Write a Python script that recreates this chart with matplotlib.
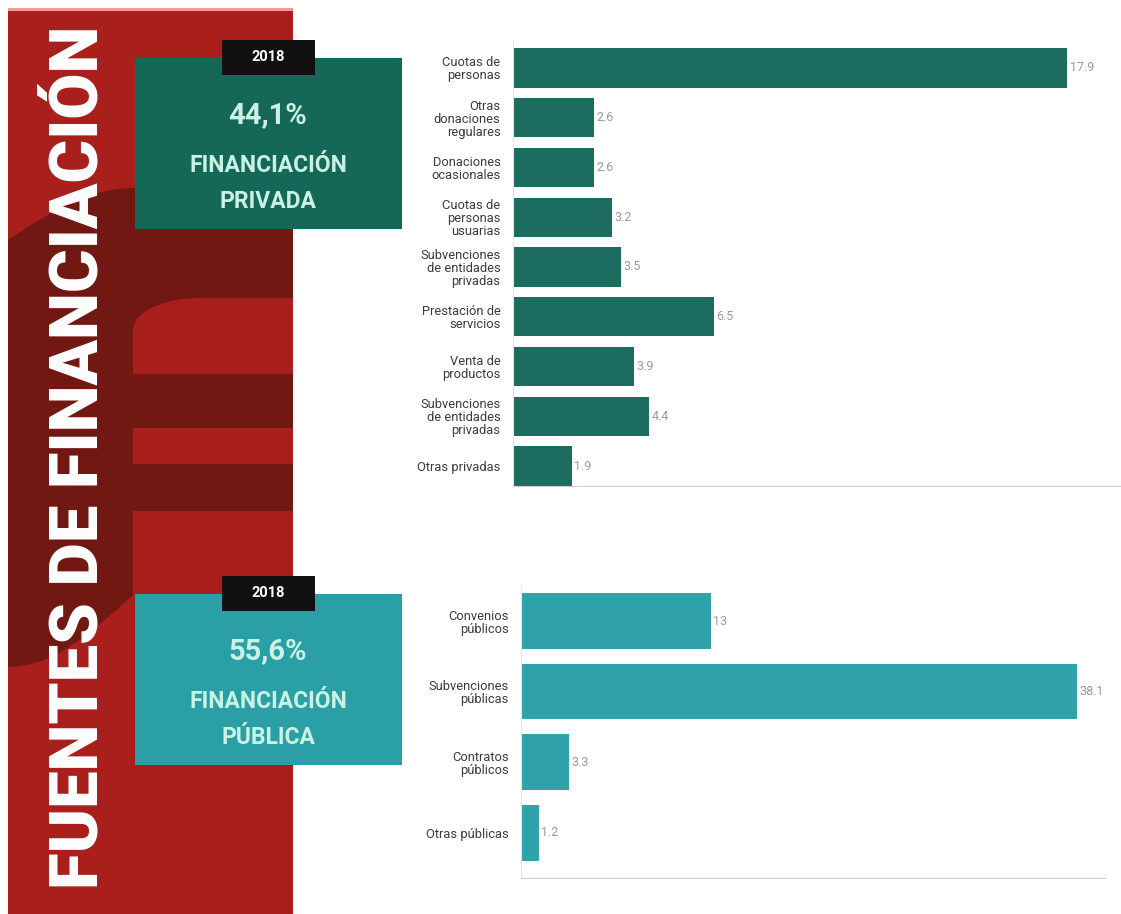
import matplotlib
matplotlib.use('Agg')
import matplotlib.pyplot as plt
import numpy as np
from matplotlib.patches import Rectangle, Polygon

plt.rcParams['font.family'] = ['Roboto', 'DejaVu Sans']

# data
priv_labels = ['Cuotas de\npersonas', 'Otras\ndonaciones\nregulares', 'Donaciones\nocasionales',
               'Cuotas de\npersonas\nusuarias', 'Subvenciones\nde entidades\nprivadas',
               'Prestación de\nservicios', 'Venta de\nproductos',
               'Subvenciones\nde entidades\nprivadas', 'Otras privadas']
priv_values = [17.9, 2.6, 2.6, 3.2, 3.5, 6.5, 3.9, 4.4, 1.9]
pub_labels = ['Convenios\npúblicos', 'Subvenciones\npúblicas', 'Contratos\npúblicos', 'Otras públicas']
pub_values = [13, 38.1, 3.3, 1.2]
year = '2018'
priv_share = '44,1%'
pub_share = '55,6%'

W, H = 1121, 914
fig = plt.figure(figsize=(W / 100, H / 100), dpi=100)

# background axes in pixel coordinates
bg = fig.add_axes([0, 0, 1, 1])
bg.set_xlim(0, W)
bg.set_ylim(H, 0)
bg.axis('off')

red = '#a81f1b'
dark = '#711812'
bg.add_patch(Rectangle((8, 8), 285, H - 8, color=red, lw=0))
bg.add_patch(Rectangle((8, 8), 285, 3, color='#f29b97', lw=0))

# big dark arc shape on the left
t = np.linspace(0, 1, 30)
top_x = 8 + 125 * t
top_y = 240 - 52 * np.sin(t * np.pi / 2)
bot_x = 133 - 125 * t
bot_y = 595 + 72 * np.sin(t * np.pi / 2)
poly = np.vstack([np.column_stack([top_x, top_y]),
                  [[133, 188], [293, 185], [293, 298]],
                  np.column_stack([200 - 67 * np.sin(t * np.pi / 2), 298 + 32 * (1 - np.cos(t * np.pi / 2))]),
                  np.column_stack([bot_x, bot_y])])
bg.add_patch(Polygon(poly, closed=True, color=dark, lw=0))
bg.add_patch(Rectangle((8, 374), 285, 54, color=dark, lw=0))
bg.add_patch(Rectangle((8, 464), 285, 47, color=dark, lw=0))

# vertical title
title = bg.text(80, 457, 'FUENTES DE FINANCIACIÓN', rotation=90, ha='center', va='center',
                color='white', fontsize=45, fontweight='heavy')
fig.canvas.draw()
ext = title.get_window_extent()
title.set_fontsize(45 * 865 / ext.height)

# info boxes
def info_box(y0, col, share, kind):
    bg.add_patch(Rectangle((135, y0), 267, 171, color=col, lw=0))
    bg.add_patch(Rectangle((222, y0 - 18), 93, 35, color='#111111', lw=0))
    bg.text(268, y0 - 1, year, ha='center', va='center', color='white', fontsize=10.5, fontweight='bold')
    bg.text(268, y0 + 57, share, ha='center', va='center', color='#c9f2e4', fontsize=21, fontweight='bold')
    bg.text(268, y0 + 108, 'FINANCIACIÓN', ha='center', va='center', color='#c9f2e4', fontsize=16.5,
            fontweight='bold')
    bg.text(268, y0 + 143, kind, ha='center', va='center', color='#c9f2e4', fontsize=16.5, fontweight='bold')

info_box(58, '#156857', priv_share, 'PRIVADA')
info_box(594, '#2a9fa6', pub_share, 'PÚBLICA')


def bar_panel(left, right, top, bottom, labels, values, color, xmax, ylim):
    ax = fig.add_axes([left / W, 1 - bottom / H, (right - left) / W, (bottom - top) / H])
    ax.patch.set_alpha(0)
    y = np.arange(len(values))
    ax.barh(y, values, height=0.79, color=color)
    for yi, v in zip(y, values):
        ax.text(v + xmax * 0.004, yi, f'{v:g}', ha='left', va='center', fontsize=9, color='#9a9a9a')
    ax.set_xlim(0, xmax)
    ax.set_ylim(*ylim)
    ax.set_yticks(y)
    ax.set_yticklabels(labels, fontsize=9.3, color='#3a3a3a', linespacing=1.0)
    ax.tick_params(axis='y', length=0, pad=9)
    ax.set_xticks([])
    for s in ['top', 'right']:
        ax.spines[s].set_visible(False)
    ax.spines['left'].set_color('#e6e6e6')
    ax.spines['bottom'].set_color('#cccccc')
    ax.spines['left'].set_linewidth(0.8)
    ax.spines['bottom'].set_linewidth(0.8)
    return ax

bar_panel(513, 1120, 40, 486, priv_labels, priv_values, '#1d6c60', 19.6, (8.4, -0.56))
bar_panel(521, 1105, 585, 878, pub_labels, pub_values, '#2fa2aa', 40.0, (3.64, -0.51))

fig.savefig('out.png', dpi=100)
